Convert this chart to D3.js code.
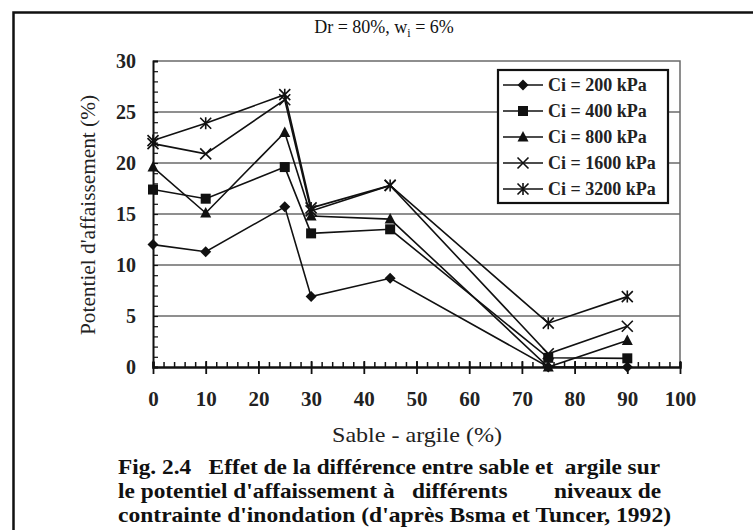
<!DOCTYPE html>
<html>
<head>
<meta charset="utf-8">
<script src="https://cdn.jsdelivr.net/npm/d3@7"></script>
<style>
  body { margin: 0; background: #fff; }
  svg { display: block; font-family: "Liberation Serif", "DejaVu Serif", serif; }
</style>
</head>
<body>
<svg id="chart" width="753" height="530"></svg>
<script>
// data
const sableArgile = [0, 10, 25, 30, 45, 75, 90];
const ci200 = [12.0, 11.3, 15.7, 6.9, 8.7, 0, 0];
const ci400 = [17.4, 16.5, 19.6, 13.1, 13.5, 0.9, 0.85];
const ci800 = [19.6, 15.1, 23.0, 14.8, 14.5, 0, 2.6];
const ci1600 = [21.9, 20.9, 26.2, 15.3, 17.8, 1.3, 4.0];
const ci3200 = [22.2, 23.9, 26.7, 15.6, 17.8, 4.3, 6.9];
const seriesNames = ["Ci = 200 kPa", "Ci = 400 kPa", "Ci = 800 kPa", "Ci = 1600 kPa", "Ci = 3200 kPa"];
const markerTypes = ["diamond", "square", "triangle", "cross", "star"];
const xTicks = [0, 10, 20, 30, 40, 50, 60, 70, 80, 90, 100];
const yTicks = [0, 5, 10, 15, 20, 25, 30];

const series = [ci200, ci400, ci800, ci1600, ci3200].map((vals, i) => ({
  name: seriesNames[i],
  marker: markerTypes[i],
  points: vals.map((v, j) => ({x: sableArgile[j], y: v}))
}));

const margin = {top: 61, right: 73, bottom: 163, left: 153};
const W = 753, H = 530;
const width = W - margin.left - margin.right;
const height = H - margin.top - margin.bottom;

const svg = d3.select("#chart");

// outer frame of the figure
svg.append("path")
  .attr("d", `M${W + 5},12.5 H13.5 V${H + 5}`)
  .attr("fill", "none").attr("stroke", "#111").attr("stroke-width", 2.5);

svg.append("text")
  .attr("x", 384).attr("y", 33)
  .attr("text-anchor", "middle")
  .attr("font-size", 18).attr("fill", "#111")
  .html('Dr = 80%, w<tspan font-size="12" dy="4">i</tspan><tspan dy="-4"> = 6%</tspan>');

const g = svg.append("g").attr("transform", `translate(${margin.left},${margin.top})`);

const x = d3.scaleLinear().domain([0, 100]).range([0, width]);
const y = d3.scaleLinear().domain([0, 30]).range([height, 0]);

// gridlines
g.append("g")
  .selectAll("line")
  .data([5, 10, 15, 20, 25])
  .join("line")
  .attr("x1", 0).attr("x2", width)
  .attr("y1", (d) => y(d)).attr("y2", (d) => y(d))
  .attr("stroke", "#6a6a6a").attr("stroke-width", 1.5);

// top and right frame
g.append("path")
  .attr("d", `M0,${y(30)} H${width} V${height}`)
  .attr("fill", "none").attr("stroke", "#6a6a6a").attr("stroke-width", 1.5);

// y axis with minor ticks pointing inward
const yAxis = g.append("g")
  .call(d3.axisRight(y).tickValues(d3.range(0, 31, 1)).tickSize(5).tickFormat(""));
yAxis.select(".domain").attr("stroke", "#111").attr("stroke-width", 2);
yAxis.selectAll(".tick line").attr("stroke", "#111").attr("stroke-width", 1.2);

g.append("g")
  .selectAll("text")
  .data(yTicks)
  .join("text")
  .attr("x", -17).attr("y", (d) => y(d))
  .attr("dy", "0.35em")
  .attr("text-anchor", "end")
  .attr("font-size", 20).attr("font-weight", "bold")
  .attr("fill", "#222")
  .text((d) => d);

// x axis: minor ticks above, major ticks through the axis
const xMinor = g.append("g")
  .attr("transform", `translate(0,${height})`)
  .call(d3.axisTop(x).tickValues(d3.range(0, 101, 2)).tickSize(5).tickFormat(""));
xMinor.select(".domain").attr("stroke", "#111").attr("stroke-width", 2.5);
xMinor.selectAll(".tick line").attr("stroke", "#111").attr("stroke-width", 1.5);

const xMajor = g.append("g")
  .attr("transform", `translate(0,${height})`)
  .call(d3.axisBottom(x).tickValues(xTicks).tickSize(7).tickPadding(17));
xMajor.select(".domain").remove();
xMajor.selectAll(".tick line").attr("stroke", "#111").attr("stroke-width", 1.8).attr("y1", -6);
xMajor.selectAll(".tick text")
  .attr("font-family", "Liberation Serif, serif")
  .attr("font-size", 21).attr("font-weight", "bold").attr("fill", "#222");

// axis titles
svg.append("text")
  .attr("x", 417).attr("y", 442)
  .attr("text-anchor", "middle")
  .attr("font-size", 21).attr("fill", "#222")
  .attr("textLength", 170).attr("lengthAdjust", "spacingAndGlyphs")
  .text("Sable - argile  (%)");

svg.append("text")
  .attr("transform", "translate(95,215) rotate(-90)")
  .attr("text-anchor", "middle")
  .attr("font-size", 20).attr("fill", "#222")
  .attr("textLength", 240).attr("lengthAdjust", "spacingAndGlyphs")
  .text("Potentiel d'affaissement (%)");

// lines
const line = d3.line().x((d) => x(d.x)).y((d) => y(d.y));
g.append("g")
  .selectAll("path")
  .data(series)
  .join("path")
  .attr("d", (d) => line(d.points))
  .attr("fill", "none")
  .attr("stroke", "#111")
  .attr("stroke-width", 1.6);

function drawMarker(sel, type) {
  if (type === "diamond") {
    sel.append("path").attr("d", "M0,-5.5 L5.5,0 L0,5.5 L-5.5,0Z").attr("fill", "#111");
  } else if (type === "square") {
    sel.append("rect").attr("x", -5).attr("y", -5).attr("width", 10).attr("height", 10).attr("fill", "#111");
  } else if (type === "triangle") {
    sel.append("path").attr("d", "M0,-6 L5.5,4.5 L-5.5,4.5Z").attr("fill", "#111");
  } else if (type === "cross") {
    sel.append("path").attr("d", "M-5.5,-5.5 L5.5,5.5 M-5.5,5.5 L5.5,-5.5")
      .attr("stroke", "#111").attr("stroke-width", 1.6);
  } else {
    sel.append("path").attr("d", "M-5.5,-5.5 L5.5,5.5 M-5.5,5.5 L5.5,-5.5 M0,-6 V6")
      .attr("stroke", "#111").attr("stroke-width", 1.6);
  }
}

series.forEach((s) => {
  g.append("g")
    .selectAll("g")
    .data(s.points)
    .join("g")
    .attr("transform", (d) => `translate(${x(d.x)},${y(d.y)})`)
    .each(function () { drawMarker(d3.select(this), s.marker); });
});

// legend
const legend = svg.append("g").attr("transform", "translate(498,70)");
legend.append("rect")
  .attr("width", 170).attr("height", 133)
  .attr("fill", "#fff").attr("stroke", "#111").attr("stroke-width", 2.2);
series.forEach((s, i) => {
  const row = legend.append("g").attr("transform", `translate(0,${15 + i * 26})`);
  row.append("line").attr("x1", 5).attr("x2", 45).attr("stroke", "#111").attr("stroke-width", 1.6);
  drawMarker(row.append("g").attr("transform", "translate(25,0)"), s.marker);
  row.append("text")
    .attr("x", 50).attr("dy", "0.35em")
    .attr("font-size", 18).attr("font-weight", "bold").attr("fill", "#222")
    .text(s.name);
});

// caption
const caption = [
  "Fig. 2.4\u00a0\u00a0 Effet de la différence entre sable et\u00a0 argile sur",
  "le potentiel d'affaissement à\u00a0\u00a0 différents\u00a0\u00a0\u00a0\u00a0\u00a0\u00a0\u00a0 niveaux de",
  "contrainte d'inondation (d'après Bsma et Tuncer, 1992)"
];
const captionWidths = [542, 543, 553];
svg.append("g")
  .selectAll("text")
  .data(caption)
  .join("text")
  .attr("x", 118).attr("y", (d, i) => 474 + i * 24)
  .attr("font-size", 21).attr("font-weight", "bold").attr("fill", "#111")
  .attr("textLength", (d, i) => captionWidths[i]).attr("lengthAdjust", "spacingAndGlyphs")
  .text((d) => d);
</script>
</body>
</html>
